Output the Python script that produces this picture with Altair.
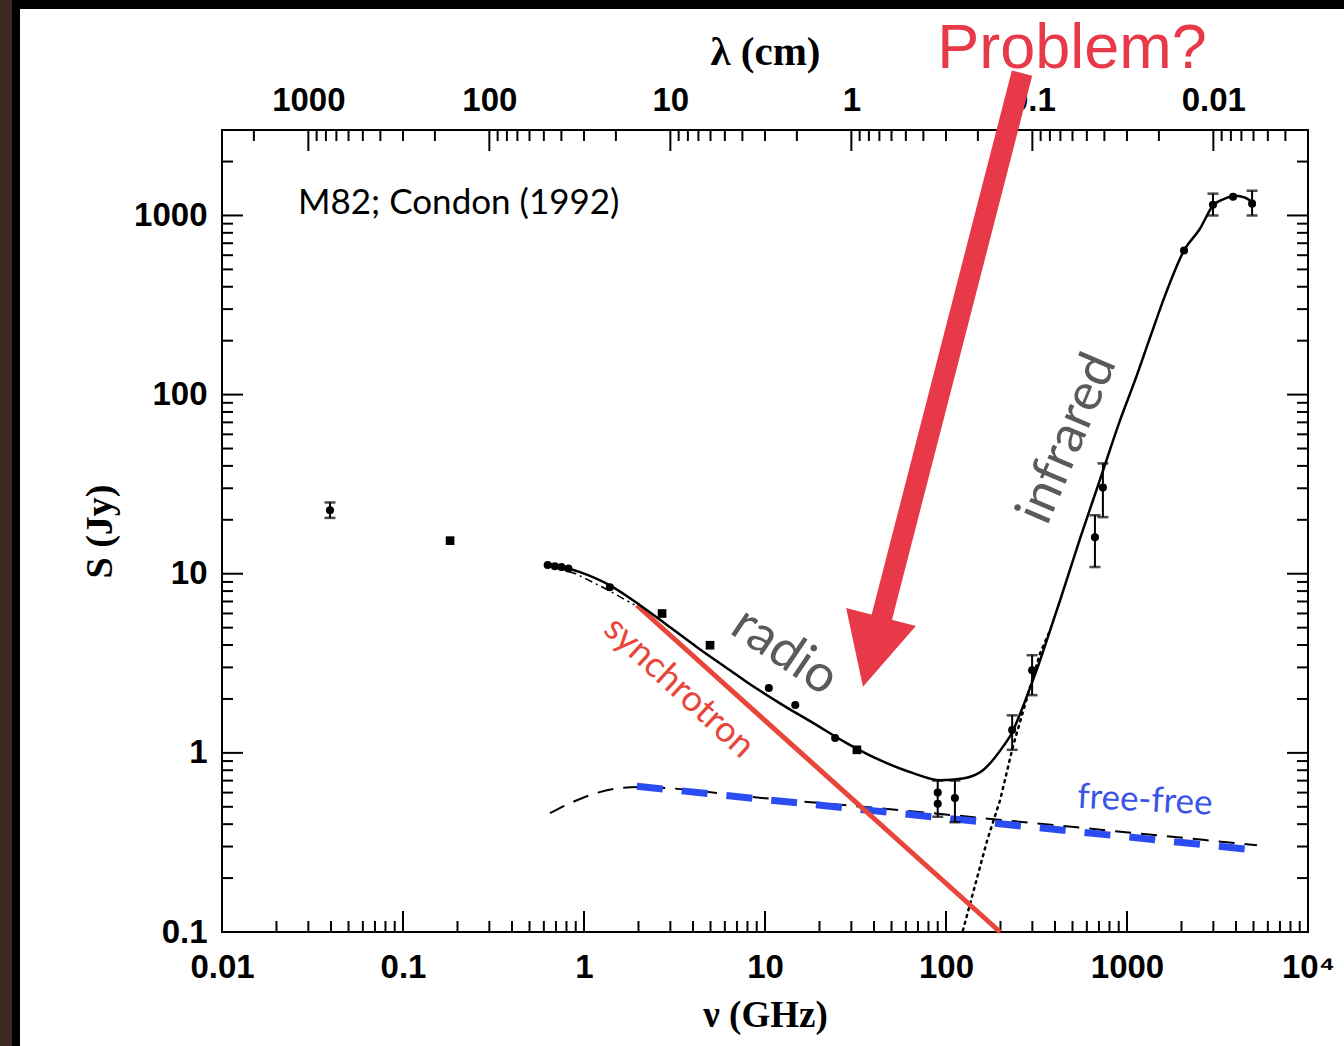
import altair as alt
import pandas as pd

# ---------------- data ----------------
# measured flux densities (filled circles)
pt_nu = [0.0395, 0.63, 0.69, 0.75, 0.82, 1.39, 10.5, 14.7, 24.4, 90.0, 90.0, 112.0,
         232.0, 299.0, 665.0, 736.0, 2066.0, 2986.0, 3855.0, 4910.0]
pt_S = [22.6, 11.2, 11.0, 10.9, 10.7, 8.4, 2.30, 1.85, 1.21, 0.60, 0.52, 0.56,
        1.34, 2.89, 16.0, 30.3, 637.0, 1148.0, 1273.0, 1164.0]
# measured flux densities (filled squares)
sq_nu = [0.182, 2.7, 4.97, 32.2]
sq_S = [15.3, 6.0, 3.99, 1.04]
# error bars
err_nu = [0.0395, 90.0, 112.0, 232.0, 299.0, 665.0, 736.0, 2986.0, 4910.0]
err_lo = [20.5, 0.44, 0.41, 1.04, 2.10, 10.9, 20.7, 1000.0, 1000.0]
err_hi = [25.0, 0.70, 0.70, 1.62, 3.51, 21.2, 41.3, 1324.0, 1374.0]

# total model (solid curve)
tot_nu = [0.625, 0.951, 1.39, 2.04, 2.99, 4.21, 6.41, 7.96, 12.1, 18.4, 28.4, 43.2,
          65.8, 92.7, 124.0, 160.0, 206.0, 232.0, 256.0, 291.0, 331.0, 376.0, 427.0,
          550.0, 710.0, 915.0, 1107.0, 1340.0, 1622.0, 2065.0, 2530.0, 2985.0,
          3475.0, 3953.0, 4487.0, 4966.0]
tot_S = [11.4, 10.2, 8.61, 6.67, 5.02, 3.89, 2.89, 2.48, 1.89, 1.47, 1.13, 0.91,
         0.771, 0.704, 0.72, 0.80, 1.08, 1.30, 1.64, 2.30, 3.29, 4.83, 7.11,
         15.7, 33.6, 71.8, 120.0, 208.0, 357.0, 637.0, 843.0, 1135.0,
         1241.0, 1289.0, 1257.0, 1178.0]
# free-free model (thin black dashes)
ff_nu = [0.649, 0.914, 1.22, 1.58, 2.04, 10.0, 55.7, 300.0, 5224.0]
ff_S = [0.461, 0.544, 0.604, 0.636, 0.644, 0.558, 0.479, 0.406, 0.305]
# free-free highlight (thick blue dashes)
bl_nu = [1.96, 41.6, 4603.0]
bl_S = [0.651, 0.473, 0.290]
# synchrotron highlight (red)
sy_nu = [1.96, 199.0]
sy_S = [6.67, 0.1]
# dust component (dotted)
du_nu = [124.0, 169.0, 199.0, 234.0, 281.0, 331.0, 376.0]
du_S = [0.102, 0.326, 0.544, 1.08, 2.05, 3.60, 4.83]
# low-frequency dash-dot model
dd_nu = [0.66, 0.9, 1.3, 1.9]
dd_S = [11.0, 10.0, 8.3, 6.7]

# annotations
ann_text = ["M82; Condon (1992)", "radio", "synchrotron", "infrared", "free-free", "Problem?"]
ann_nu = [0.0263, 12.9, 3.35, 467.0, 1256.0, 497.0]
ann_S = [1178.0, 3.69, 2.32, 56.9, 0.544, 6670.0]
# big red arrow: tail -> head
arrow_nu = [263.0, 41.0]
arrow_S = [6240.0, 4.26]
head_nu = [39.0]
head_S = [3.66]

# axis ticks / labels
nu_labels = [0.01, 0.1, 1, 10, 100, 1000, 10000]
nu_major = [0.1, 1, 10, 100, 1000]
nu_minor = [m * 10.0 ** e for e in range(-2, 4) for m in range(2, 10)]
S_labels = [0.1, 1, 10, 100, 1000]
S_major = [1, 10, 100, 1000]
S_minor = [m * 10.0 ** e for e in range(-1, 4) for m in range(2, 10) if m * 10.0 ** e < 2999]
lam_major = [1000, 100, 10, 1, 0.1, 0.01]
lam_minor = [m * 10.0 ** e for e in range(-3, 4) for m in range(2, 10)
             if 0.0031 < m * 10.0 ** e < 2999]

# ---------------- chart ----------------
W, H = 1086, 802
xs = alt.Scale(type="log", domain=[0.01, 10000], nice=False)
ys = alt.Scale(type="log", domain=[0.1, 3000], nice=False)
ls = alt.Scale(type="log", domain=[0.003, 3000], reverse=True, nice=False)

RED = "#E8463A"
ARROW = "#E83948"
GRAY = "#5a5a5a"
LBL_EXPR = ("datum.value >= 9999 ? '10\u2074' : (datum.value >= 1 ? "
            "format(datum.value, 'd') : format(datum.value, '~g'))")

common_lbl = dict(ticks=False, tickSize=0, domain=False, grid=False,
                  labelFont="Liberation Sans", labelFontWeight="bold", labelFontSize=33,
                  labelColor="black", labelOverlap=False, labelExpr=LBL_EXPR,
                  titleFont="Liberation Serif", titleFontWeight="bold",
                  titleColor="black", zindex=0)

ax_bottom = alt.Axis(orient="bottom", values=nu_labels, labelPadding=19, labelFlush=False,
                     title="\u03bd (GHz)", titleY=83, titleBaseline="middle",
                     titleFontSize=37, **common_lbl)
ax_left = alt.Axis(orient="left", values=S_labels, labelPadding=15,
                   title="S (Jy)", titleX=-122, titleY=H / 2, titleAngle=270,
                   titleAlign="center", titleBaseline="middle", titleFontSize=38,
                   **common_lbl)
ax_top = alt.Axis(orient="top", values=lam_major, labelPadding=13, labelFlush=False,
                  title="\u03bb (cm)", titleY=-78, titleBaseline="middle",
                  titleFontSize=41, **common_lbl)


def X():
    return alt.X("nu:Q", scale=xs, axis=ax_bottom)


def Y(field="S"):
    return alt.Y(f"{field}:Q", scale=ys, axis=ax_left)


def df(nu, S):
    return pd.DataFrame({"nu": nu, "S": S})


one = pd.DataFrame({"d": [0]})


def deco(x, x2, y, y2, color):
    return alt.Chart(one).mark_rect(color=color).encode(
        x=alt.value(x), x2=alt.value(x2), y=alt.value(y), y2=alt.value(y2))


layers = []
# slide frame around the scanned figure
layers.append(deco(-222, -210, -130, 916, "#3b2a21"))
layers.append(deco(-210, -202, -130, 916, "#000000"))
layers.append(deco(-210, 1122, -130, -121, "#000000"))

# inward ticks: bottom / left / right
tk = dict(color="black", strokeWidth=2)
layers.append(alt.Chart(pd.DataFrame({"nu": nu_major})).mark_rule(**tk).encode(
    x=X(), y=alt.value(H), y2=alt.value(H - 21)))
layers.append(alt.Chart(pd.DataFrame({"nu": nu_minor})).mark_rule(**tk).encode(
    x=X(), y=alt.value(H), y2=alt.value(H - 11)))
layers.append(alt.Chart(pd.DataFrame({"S": S_major})).mark_rule(**tk).encode(
    y=Y(), x=alt.value(0), x2=alt.value(21)))
layers.append(alt.Chart(pd.DataFrame({"S": S_minor})).mark_rule(**tk).encode(
    y=Y(), x=alt.value(0), x2=alt.value(11)))
layers.append(alt.Chart(pd.DataFrame({"S": S_major})).mark_rule(**tk).encode(
    y=Y(), x=alt.value(W - 21), x2=alt.value(W)))
layers.append(alt.Chart(pd.DataFrame({"S": S_minor})).mark_rule(**tk).encode(
    y=Y(), x=alt.value(W - 11), x2=alt.value(W)))

# model curves
layers.append(alt.Chart(df(ff_nu, ff_S)).mark_line(
    color="black", strokeWidth=2, strokeDash=[16, 10], interpolate="monotone").encode(x=X(), y=Y()))
layers.append(alt.Chart(df(bl_nu, bl_S)).mark_line(
    color="#2B4CF2", strokeWidth=7, strokeDash=[26, 19]).encode(x=X(), y=Y()))
layers.append(alt.Chart(df(du_nu, du_S)).mark_line(
    color="black", strokeWidth=2.5, strokeDash=[2, 5], strokeCap="round").encode(x=X(), y=Y()))
layers.append(alt.Chart(df(dd_nu, dd_S)).mark_line(
    color="black", strokeWidth=1.5, strokeDash=[8, 4, 2, 4]).encode(x=X(), y=Y()))
layers.append(alt.Chart(df(sy_nu, sy_S)).mark_line(
    color=RED, strokeWidth=5).encode(x=X(), y=Y()))
layers.append(alt.Chart(df(tot_nu, tot_S)).mark_line(
    color="black", strokeWidth=2.5, interpolate="monotone").encode(x=X(), y=Y()))

# error bars
err_df = pd.DataFrame({"nu": err_nu, "lo": err_lo, "hi": err_hi})
layers.append(alt.Chart(err_df).mark_rule(color="black", strokeWidth=2).encode(
    x=X(), y=Y("lo"), y2="hi:Q"))
layers.append(alt.Chart(err_df).mark_tick(color="black", orient="horizontal", size=11,
                                          thickness=2.5).encode(x=X(), y=Y("lo")))
layers.append(alt.Chart(err_df).mark_tick(color="black", orient="horizontal", size=11,
                                          thickness=2.5).encode(x=X(), y=Y("hi")))
# data points
layers.append(alt.Chart(df(pt_nu, pt_S)).mark_point(
    shape="circle", filled=True, size=65, color="black", opacity=1).encode(x=X(), y=Y()))
layers.append(alt.Chart(df(sq_nu, sq_S)).mark_point(
    shape="square", filled=True, size=75, color="black", opacity=1).encode(x=X(), y=Y()))

# annotations
styles = [
    dict(font="Lato", fontSize=35, color="black", align="left", baseline="middle", angle=0),
    dict(font="Lato", fontSize=52, color=GRAY, align="center", baseline="middle", angle=34),
    dict(font="Lato", fontSize=36, color=RED, align="center", baseline="middle", angle=42.6),
    dict(font="Lato", fontSize=52, color=GRAY, align="center", baseline="middle", angle=293),
    dict(font="Lato", fontSize=35, color="#3a55e6", align="center", baseline="middle", angle=3),
    dict(font="Liberation Sans", fontSize=63, color=ARROW, align="center",
         baseline="alphabetic", angle=0),
]
for t, n, s, st in zip(ann_text, ann_nu, ann_S, styles):
    d = pd.DataFrame({"nu": [n], "S": [s], "t": [t]})
    layers.append(alt.Chart(d).mark_text(**st).encode(x=X(), y=Y(), text="t:N"))

# big red arrow
layers.append(alt.Chart(df(arrow_nu, arrow_S)).mark_line(
    color=ARROW, strokeWidth=21, strokeCap="butt").encode(x=X(), y=Y()))
layers.append(alt.Chart(df(head_nu, head_S)).mark_point(
    shape="M-1,-1L1,-1L0,1Z", filled=True, size=72 * 72, angle=14.5,
    color=ARROW, opacity=1).encode(x=X(), y=Y()))

nu_group = alt.layer(*layers)

# top wavelength axis
lam_group = alt.layer(
    alt.Chart(pd.DataFrame({"lam": lam_major})).mark_rule(**tk).encode(
        x=alt.X("lam:Q", scale=ls, axis=ax_top), y=alt.value(0), y2=alt.value(21)),
    alt.Chart(pd.DataFrame({"lam": lam_minor})).mark_rule(**tk).encode(
        x=alt.X("lam:Q", scale=ls, axis=ax_top), y=alt.value(0), y2=alt.value(11)),
)

chart = (
    alt.layer(lam_group, nu_group)
    .resolve_scale(x="independent")
    .properties(width=W, height=H,
                autosize=alt.AutoSizeParams(type="none"),
                padding={"left": 222, "top": 130, "right": 36, "bottom": 114},
                background="white")
    .configure_view(stroke="black", strokeWidth=2)
)

chart.save("out.html", embed_options={"renderer": "svg", "actions": False})
